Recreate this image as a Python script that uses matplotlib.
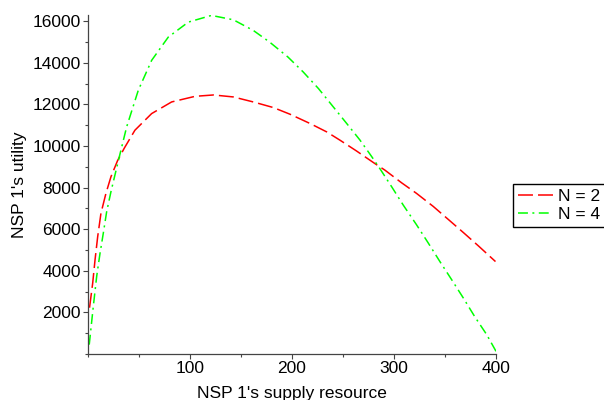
import numpy as np
import matplotlib.pyplot as plt
from matplotlib.ticker import MultipleLocator

plt.rcParams["font.family"] = ["Liberation Sans", "DejaVu Sans"]
plt.rcParams["font.size"] = 12.5

# 数据
x_n2 = [1.5, 4.6, 6.9, 9.5, 12.7, 17.6, 22.5, 29, 35.6, 46, 62.4, 82, 105, 123,
        142.5, 162, 181.7, 198, 217.6, 234, 247, 263, 281, 291, 307.5, 322, 338.5,
        353, 368, 382.7, 399.5]
u_n2 = [2225, 3410, 4527, 5645, 6767, 7726, 8523, 9300, 9900, 10760, 11560, 12120,
        12390, 12455, 12360, 12120, 11850, 11530, 11085, 10680, 10282, 9770, 9165,
        8844, 8230, 7726, 7095, 6480, 5840, 5200, 4445]

x_n4 = [1.2, 5.2, 8.5, 11.8, 15, 18.3, 22.5, 26.8, 30.7, 37.9, 49.3, 62.4, 78.7,
        98.3, 121, 142.5, 162, 178, 196, 211, 226, 240.5, 253.6, 266.7, 278, 286,
        297.7, 309, 322, 333.7, 345, 356.6, 368, 379, 390.9, 400]
u_n4 = [450, 2288, 3727, 4849, 5808, 6845, 7803, 8686, 9482, 10920, 12680, 14120,
        15237, 15957, 16280, 16070, 15560, 15000, 14280, 13560, 12760, 11880, 11085,
        10282, 9500, 8925, 8043, 7165, 6220, 5328, 4445, 3568, 2690, 1808, 930, 130]

series_labels = ["N = 2", "N = 4"]
x_ticks = [100, 200, 300, 400]
y_ticks = [2000, 4000, 6000, 8000, 10000, 12000, 14000, 16000]

fig = plt.figure(figsize=(6.04, 4.0), dpi=100)
ax = fig.add_axes([88 / 604, 46 / 400, 408 / 604, 339 / 400])

ax.plot(x_n2, u_n2, color="#ff0000", lw=1.1, dashes=(9.8, 3.3), label=series_labels[0])
ax.plot(x_n4, u_n4, color="#00ff00", lw=1.1, dashes=(6.5, 2.9, 1.3, 2.9),
        label=series_labels[1])

ax.set_xlim(0, 400)
ax.set_ylim(0, 16300)
ax.set_xticks(x_ticks)
ax.set_yticks(y_ticks)
ax.xaxis.set_minor_locator(MultipleLocator(50))
ax.yaxis.set_minor_locator(MultipleLocator(1000))
ax.tick_params(which="major", length=3.8, width=0.8, color="#444444", pad=1.5)
ax.tick_params(which="minor", length=2.5, width=0.8, color="#444444")

for side in ["top", "right"]:
    ax.spines[side].set_visible(False)
for side in ["left", "bottom"]:
    ax.spines[side].set_color("#444444")
    ax.spines[side].set_linewidth(0.9)

ax.set_xlabel("NSP 1's supply resource", labelpad=7)
ax.set_ylabel("NSP 1's utility", labelpad=4)

# 图例放在右侧，框的中心约在距顶部 205 px 处
fig.legend(loc="center left", bbox_to_anchor=(513 / 604, 194.5 / 400),
           frameon=True, fancybox=False, edgecolor="black", framealpha=1,
           fontsize=12.5, handlelength=2.0, borderpad=0.3, labelspacing=0.15,
           handletextpad=0.3, borderaxespad=0)

fig.savefig("out.png", dpi=100)
